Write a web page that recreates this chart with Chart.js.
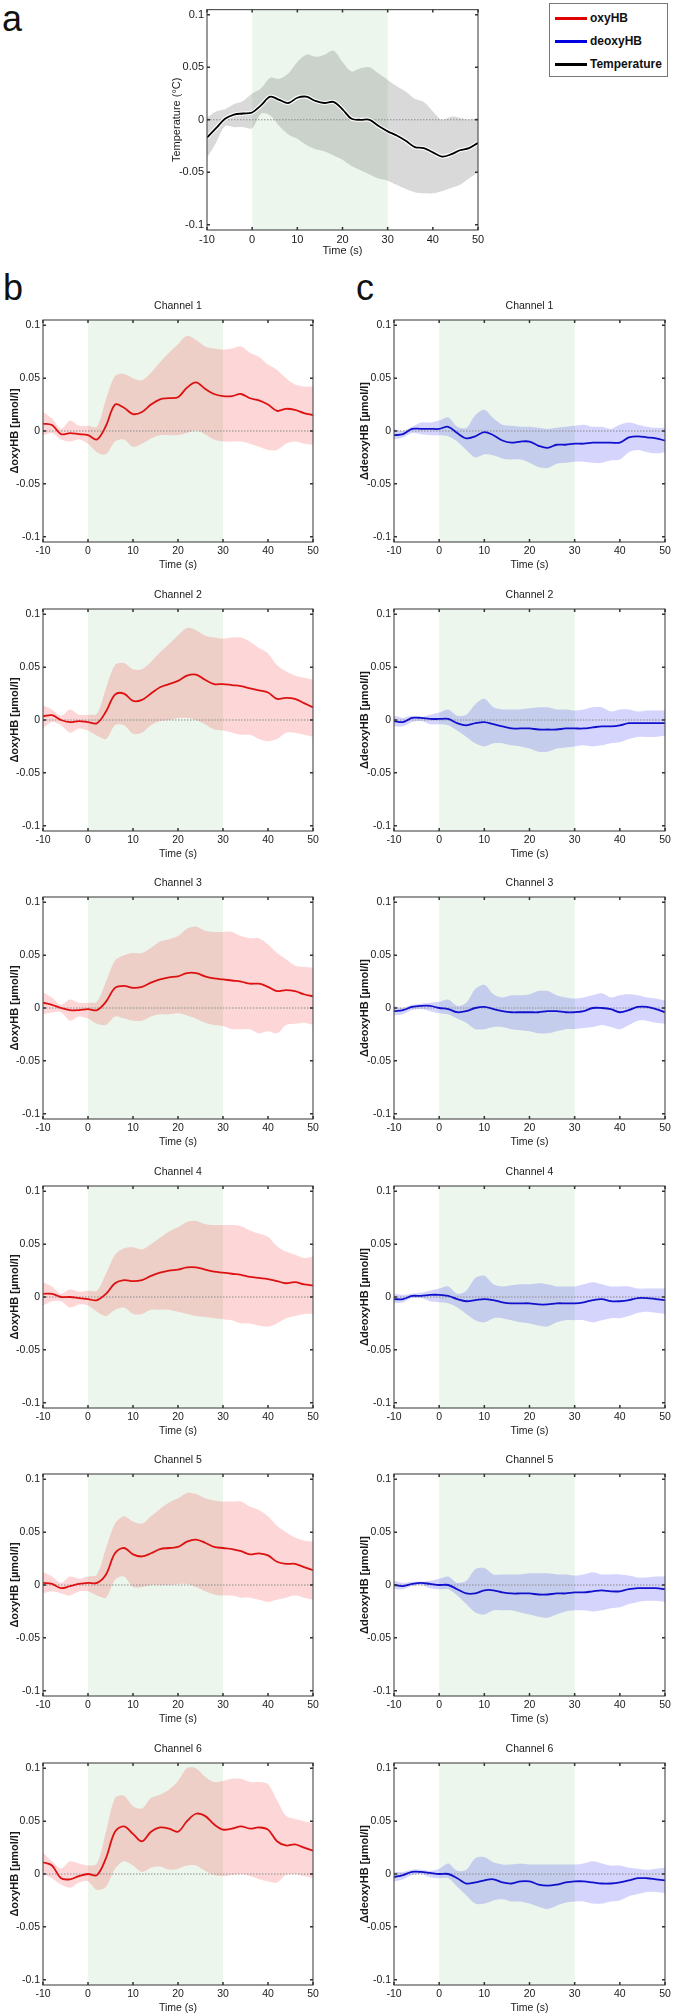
<!DOCTYPE html>
<html>
<head>
<meta charset="utf-8">
<script src="https://cdn.jsdelivr.net/npm/chart.js@4.4.1/dist/chart.umd.min.js"></script>
<style>
  html, body { margin: 0; padding: 0; background: #fff; overflow: hidden; }
  body { position: relative; width: 675px; height: 2016px; font-family: "Liberation Sans", Arial, sans-serif; }
  canvas { position: absolute; }
  .panel { position: absolute; font-size: 36px; line-height: 36px; color: #111; }
  #legend { position: absolute; left: 549px; top: 3px; width: 117px; height: 72px; border: 1px solid #777; background: #fff; }
  #legend .row { position: absolute; left: 0; height: 14px; line-height: 14px; font-size: 12px; font-weight: bold; color: #111; }
  #legend .sw { position: absolute; left: 5px; top: 6px; width: 32px; height: 2.5px; }
  #legend .txt { position: absolute; left: 40px; top: 0; white-space: nowrap; }
</style>
</head>
<body>

<div class="panel" style="left:2px; top:1px;">a</div>
<div class="panel" style="left:3px; top:270px;">b</div>
<div class="panel" style="left:356px; top:270px;">c</div>

<div id="legend">
  <div class="row" style="top:7px;"><span class="sw" style="background:#e00000"></span><span class="txt">oxyHB</span></div>
  <div class="row" style="top:30px;"><span class="sw" style="background:#0000e0"></span><span class="txt">deoxyHB</span></div>
  <div class="row" style="top:53px;"><span class="sw" style="background:#000"></span><span class="txt">Temperature</span></div>
</div>

<canvas id="cA" width="330" height="264" style="left:160px; top:0px;"></canvas>

<script>
// time axis (s)
const time = [-10, -8, -6, -4, -2, 0, 2, 4, 6, 8, 10, 12, 14, 16, 18, 20, 22, 24, 26, 28, 30, 32, 34, 36, 38, 40, 42, 44, 46, 48, 50];
const stimWindow = [0, 30];
const xTickValues = [-10, 0, 10, 20, 30, 40, 50];
const yTickValues = [-0.1, -0.05, 0, 0.05, 0.1];
const yTickLabels = ['-0.1', '-0.05', '0', '0.05', '0.1'];
const channelNames = ['Channel 1', 'Channel 2', 'Channel 3', 'Channel 4', 'Channel 5', 'Channel 6'];

// panel a - temperature
const tempMean  = [-0.017, -0.008, 0.001, 0.005, 0.006, 0.007, 0.014, 0.022, 0.019, 0.016, 0.021, 0.022, 0.018, 0.016, 0.017, 0.010, 0.001, 0.000, 0.000, -0.006, -0.011, -0.015, -0.020, -0.026, -0.027, -0.031, -0.035, -0.033, -0.029, -0.027, -0.022];
const tempUpper = [0.002, 0.008, 0.010, 0.015, 0.018, 0.025, 0.030, 0.040, 0.039, 0.044, 0.055, 0.062, 0.060, 0.062, 0.066, 0.055, 0.046, 0.049, 0.050, 0.044, 0.038, 0.032, 0.027, 0.020, 0.017, 0.008, 0.000, 0.003, 0.002, 0.000, 0.002];
const tempLower = [-0.036, -0.022, -0.006, -0.007, -0.007, -0.008, 0.006, 0.004, -0.006, -0.014, -0.018, -0.024, -0.028, -0.030, -0.034, -0.038, -0.044, -0.048, -0.052, -0.056, -0.058, -0.062, -0.066, -0.069, -0.070, -0.070, -0.068, -0.065, -0.062, -0.056, -0.050];

// panel b - oxyHB
const oxyMean1  = [0.007, 0.0057, -0.003, -0.002, -0.003, -0.004, -0.008, 0.005, 0.025, 0.022, 0.016, 0.018, 0.025, 0.030, 0.031, 0.032, 0.041, 0.046, 0.040, 0.035, 0.033, 0.033, 0.035, 0.031, 0.029, 0.025, 0.019, 0.021, 0.020, 0.017, 0.015];
const oxyUpper1 = [0.018, 0.012, 0.002, 0.010, 0.005, 0.005, 0.004, 0.030, 0.052, 0.054, 0.050, 0.048, 0.055, 0.065, 0.074, 0.082, 0.090, 0.086, 0.080, 0.078, 0.077, 0.078, 0.080, 0.074, 0.070, 0.063, 0.058, 0.050, 0.044, 0.042, 0.042];
const oxyLower1 = [-0.004, -0.002, -0.008, -0.010, -0.008, -0.012, -0.020, -0.022, -0.010, -0.008, -0.015, -0.012, -0.007, -0.004, -0.004, -0.004, -0.002, 0.001, -0.003, -0.008, -0.010, -0.010, -0.010, -0.012, -0.015, -0.018, -0.018, -0.012, -0.010, -0.012, -0.013];

const oxyMean2  = [0.0035, 0.0045, 0.000, -0.002, -0.001, -0.002, -0.003, 0.008, 0.024, 0.025, 0.018, 0.019, 0.025, 0.031, 0.034, 0.037, 0.042, 0.043, 0.038, 0.034, 0.034, 0.033, 0.032, 0.030, 0.028, 0.026, 0.020, 0.021, 0.020, 0.016, 0.012];
const oxyUpper2 = [0.014, 0.010, 0.004, 0.010, 0.005, 0.005, 0.006, 0.030, 0.052, 0.054, 0.048, 0.048, 0.055, 0.064, 0.072, 0.080, 0.087, 0.085, 0.080, 0.078, 0.077, 0.078, 0.078, 0.074, 0.068, 0.063, 0.052, 0.046, 0.042, 0.040, 0.038];
const oxyLower2 = [-0.008, -0.002, -0.005, -0.012, -0.008, -0.010, -0.015, -0.018, -0.005, -0.005, -0.013, -0.012, -0.005, -0.001, 0.000, 0.002, 0.002, 0.000, -0.004, -0.009, -0.010, -0.012, -0.014, -0.014, -0.018, -0.020, -0.018, -0.012, -0.012, -0.014, -0.016];

const oxyMean3  = [0.005, 0.003, 0.000, -0.002, -0.002, -0.001, -0.002, 0.006, 0.019, 0.021, 0.019, 0.020, 0.024, 0.027, 0.029, 0.030, 0.033, 0.033, 0.030, 0.028, 0.027, 0.026, 0.025, 0.023, 0.023, 0.020, 0.016, 0.017, 0.016, 0.013, 0.011];
const oxyUpper3 = [0.015, 0.010, 0.003, 0.008, 0.005, 0.005, 0.006, 0.025, 0.045, 0.050, 0.052, 0.052, 0.057, 0.063, 0.065, 0.068, 0.075, 0.077, 0.073, 0.072, 0.072, 0.072, 0.068, 0.066, 0.066, 0.060, 0.052, 0.046, 0.040, 0.039, 0.038];
const oxyLower3 = [-0.006, -0.004, -0.004, -0.012, -0.008, -0.010, -0.015, -0.016, -0.008, -0.010, -0.012, -0.012, -0.008, -0.006, -0.006, -0.005, -0.007, -0.010, -0.014, -0.016, -0.017, -0.020, -0.020, -0.020, -0.024, -0.022, -0.024, -0.016, -0.015, -0.014, -0.016];

const oxyMean4  = [0.003, 0.003, 0.000, 0.000, -0.001, -0.002, -0.003, 0.003, 0.013, 0.016, 0.015, 0.016, 0.020, 0.023, 0.025, 0.026, 0.028, 0.028, 0.026, 0.024, 0.023, 0.022, 0.021, 0.019, 0.018, 0.017, 0.015, 0.013, 0.014, 0.012, 0.011];
const oxyUpper4 = [0.014, 0.010, 0.003, 0.007, 0.005, 0.006, 0.006, 0.022, 0.040, 0.046, 0.047, 0.045, 0.050, 0.056, 0.062, 0.066, 0.071, 0.072, 0.069, 0.068, 0.068, 0.068, 0.067, 0.063, 0.060, 0.057, 0.048, 0.043, 0.040, 0.037, 0.038];
const oxyLower4 = [-0.008, -0.004, -0.004, -0.010, -0.007, -0.008, -0.014, -0.018, -0.012, -0.010, -0.016, -0.016, -0.012, -0.012, -0.012, -0.014, -0.016, -0.018, -0.019, -0.020, -0.021, -0.022, -0.025, -0.025, -0.027, -0.028, -0.025, -0.020, -0.018, -0.016, -0.016];

const oxyMean5  = [0.002, 0.001, -0.003, -0.001, 0.001, 0.002, 0.002, 0.010, 0.030, 0.035, 0.029, 0.027, 0.030, 0.034, 0.035, 0.036, 0.041, 0.043, 0.040, 0.036, 0.035, 0.034, 0.032, 0.029, 0.030, 0.028, 0.022, 0.020, 0.020, 0.017, 0.014];
const oxyUpper5 = [0.012, 0.008, 0.002, 0.008, 0.006, 0.008, 0.010, 0.035, 0.058, 0.065, 0.060, 0.058, 0.065, 0.072, 0.078, 0.082, 0.087, 0.086, 0.082, 0.080, 0.079, 0.079, 0.079, 0.074, 0.071, 0.065, 0.056, 0.050, 0.045, 0.042, 0.041];
const oxyLower5 = [-0.008, -0.006, -0.008, -0.010, -0.006, -0.006, -0.010, -0.012, 0.005, 0.008, -0.002, -0.002, 0.000, 0.000, 0.000, 0.001, 0.001, -0.002, -0.006, -0.009, -0.010, -0.010, -0.012, -0.012, -0.014, -0.016, -0.014, -0.012, -0.010, -0.012, -0.014];

const oxyMean6  = [0.011, 0.008, -0.004, -0.005, -0.002, 0.000, -0.001, 0.015, 0.040, 0.045, 0.038, 0.031, 0.040, 0.044, 0.043, 0.040, 0.050, 0.057, 0.055, 0.047, 0.042, 0.043, 0.045, 0.043, 0.044, 0.042, 0.031, 0.027, 0.028, 0.025, 0.022];
const oxyUpper6 = [0.020, 0.012, 0.005, 0.012, 0.010, 0.008, 0.010, 0.040, 0.072, 0.074, 0.064, 0.062, 0.072, 0.075, 0.080, 0.088, 0.100, 0.100, 0.092, 0.087, 0.088, 0.090, 0.090, 0.087, 0.087, 0.085, 0.070, 0.055, 0.052, 0.050, 0.048];
const oxyLower6 = [0.000, -0.004, -0.010, -0.013, -0.008, -0.007, -0.015, -0.012, 0.005, 0.012, 0.008, 0.002, 0.006, 0.007, 0.004, 0.005, 0.008, 0.008, 0.003, -0.001, -0.002, -0.001, 0.000, -0.002, -0.005, -0.007, -0.008, -0.001, 0.000, -0.002, -0.004];

// panel c - deoxyHB
const deoxyMean1  = [-0.004, -0.003, 0.002, 0.002, 0.002, 0.002, 0.004, -0.002, -0.007, -0.005, -0.001, -0.004, -0.009, -0.011, -0.010, -0.010, -0.014, -0.016, -0.013, -0.013, -0.012, -0.012, -0.011, -0.011, -0.011, -0.011, -0.006, -0.005, -0.006, -0.007, -0.009];
const deoxyUpper1 = [0.002, 0.000, 0.004, 0.008, 0.008, 0.010, 0.013, 0.004, 0.003, 0.015, 0.020, 0.012, 0.006, 0.005, 0.004, 0.004, 0.003, 0.002, 0.003, 0.004, 0.005, 0.006, 0.004, 0.004, 0.002, 0.006, 0.008, 0.006, 0.004, 0.003, 0.003];
const deoxyLower1 = [-0.008, -0.006, -0.002, -0.003, -0.004, -0.004, -0.005, -0.010, -0.018, -0.025, -0.022, -0.023, -0.026, -0.027, -0.027, -0.030, -0.034, -0.035, -0.031, -0.030, -0.029, -0.029, -0.030, -0.030, -0.028, -0.027, -0.020, -0.018, -0.020, -0.021, -0.020];

const deoxyMean2  = [-0.001, -0.002, 0.002, 0.002, 0.001, 0.001, 0.001, -0.003, -0.005, -0.003, -0.002, -0.004, -0.006, -0.008, -0.008, -0.008, -0.009, -0.009, -0.009, -0.008, -0.008, -0.008, -0.007, -0.006, -0.006, -0.005, -0.003, -0.003, -0.003, -0.003, -0.003];
const deoxyUpper2 = [0.004, 0.002, 0.004, 0.003, 0.005, 0.007, 0.010, 0.004, 0.005, 0.015, 0.020, 0.012, 0.010, 0.010, 0.010, 0.011, 0.012, 0.012, 0.010, 0.010, 0.009, 0.010, 0.012, 0.012, 0.008, 0.010, 0.010, 0.008, 0.009, 0.009, 0.009];
const deoxyLower2 = [-0.006, -0.006, -0.002, -0.001, -0.004, -0.004, -0.005, -0.010, -0.016, -0.022, -0.025, -0.022, -0.022, -0.024, -0.025, -0.027, -0.030, -0.030, -0.027, -0.026, -0.025, -0.024, -0.025, -0.024, -0.022, -0.021, -0.018, -0.016, -0.016, -0.016, -0.015];

const deoxyMean3  = [-0.003, -0.002, 0.001, 0.002, 0.002, 0.000, -0.001, -0.004, -0.003, 0.000, 0.001, -0.001, -0.003, -0.004, -0.004, -0.004, -0.004, -0.003, -0.003, -0.004, -0.004, -0.003, 0.000, 0.000, -0.001, -0.004, -0.002, 0.001, 0.001, -0.001, -0.004];
const deoxyUpper3 = [0.002, 0.000, 0.003, 0.004, 0.005, 0.006, 0.008, 0.002, 0.005, 0.018, 0.022, 0.013, 0.010, 0.012, 0.012, 0.013, 0.016, 0.016, 0.012, 0.010, 0.009, 0.010, 0.012, 0.014, 0.010, 0.012, 0.013, 0.012, 0.010, 0.009, 0.007];
const deoxyLower3 = [-0.007, -0.006, -0.002, -0.001, -0.003, -0.005, -0.006, -0.010, -0.014, -0.020, -0.020, -0.018, -0.018, -0.020, -0.021, -0.022, -0.024, -0.024, -0.022, -0.020, -0.020, -0.019, -0.018, -0.016, -0.018, -0.020, -0.016, -0.012, -0.012, -0.014, -0.015];

const deoxyMean4  = [-0.002, -0.002, 0.001, 0.001, 0.002, 0.002, 0.001, -0.002, -0.004, -0.003, -0.002, -0.003, -0.005, -0.006, -0.006, -0.006, -0.007, -0.007, -0.006, -0.006, -0.006, -0.005, -0.003, -0.002, -0.004, -0.004, -0.003, -0.001, -0.001, -0.002, -0.003];
const deoxyUpper4 = [0.003, 0.002, 0.003, 0.004, 0.006, 0.008, 0.010, 0.003, 0.006, 0.018, 0.020, 0.012, 0.010, 0.011, 0.012, 0.012, 0.013, 0.012, 0.010, 0.010, 0.010, 0.012, 0.014, 0.012, 0.010, 0.010, 0.010, 0.008, 0.008, 0.008, 0.008];
const deoxyLower4 = [-0.006, -0.005, -0.001, -0.001, -0.004, -0.005, -0.006, -0.010, -0.016, -0.022, -0.024, -0.020, -0.020, -0.022, -0.024, -0.025, -0.027, -0.028, -0.024, -0.022, -0.022, -0.022, -0.024, -0.022, -0.020, -0.020, -0.018, -0.015, -0.014, -0.015, -0.016];

const deoxyMean5  = [0.000, -0.001, 0.001, 0.002, 0.001, 0.000, 0.000, -0.004, -0.008, -0.008, -0.005, -0.005, -0.007, -0.008, -0.008, -0.008, -0.009, -0.009, -0.008, -0.008, -0.007, -0.007, -0.006, -0.005, -0.006, -0.006, -0.004, -0.003, -0.003, -0.003, -0.004];
const deoxyUpper5 = [0.004, 0.002, 0.003, 0.003, 0.004, 0.006, 0.008, 0.002, 0.004, 0.015, 0.016, 0.010, 0.010, 0.010, 0.010, 0.011, 0.011, 0.011, 0.010, 0.010, 0.009, 0.010, 0.012, 0.010, 0.010, 0.010, 0.009, 0.007, 0.007, 0.008, 0.008];
const deoxyLower5 = [-0.004, -0.004, -0.001, 0.000, -0.003, -0.004, -0.004, -0.010, -0.018, -0.026, -0.028, -0.024, -0.024, -0.024, -0.026, -0.028, -0.030, -0.031, -0.028, -0.025, -0.024, -0.024, -0.025, -0.024, -0.022, -0.021, -0.018, -0.016, -0.015, -0.015, -0.016];

const deoxyMean6  = [-0.003, -0.001, 0.002, 0.002, 0.001, 0.000, 0.000, -0.004, -0.009, -0.008, -0.006, -0.005, -0.008, -0.009, -0.007, -0.007, -0.010, -0.011, -0.010, -0.008, -0.007, -0.007, -0.008, -0.009, -0.009, -0.008, -0.006, -0.004, -0.004, -0.005, -0.006];
const deoxyUpper6 = [0.002, 0.002, 0.004, 0.004, 0.003, 0.005, 0.010, 0.003, 0.004, 0.015, 0.016, 0.011, 0.009, 0.009, 0.010, 0.009, 0.009, 0.009, 0.009, 0.009, 0.009, 0.010, 0.012, 0.010, 0.008, 0.008, 0.006, 0.005, 0.004, 0.005, 0.006];
const deoxyLower6 = [-0.007, -0.005, -0.001, 0.000, -0.003, -0.004, -0.004, -0.012, -0.020, -0.028, -0.028, -0.025, -0.024, -0.026, -0.026, -0.028, -0.031, -0.033, -0.030, -0.027, -0.026, -0.026, -0.028, -0.028, -0.026, -0.025, -0.021, -0.019, -0.017, -0.017, -0.018];

const oxyMeans   = [oxyMean1, oxyMean2, oxyMean3, oxyMean4, oxyMean5, oxyMean6];
const oxyUppers  = [oxyUpper1, oxyUpper2, oxyUpper3, oxyUpper4, oxyUpper5, oxyUpper6];
const oxyLowers  = [oxyLower1, oxyLower2, oxyLower3, oxyLower4, oxyLower5, oxyLower6];
const deoxyMeans  = [deoxyMean1, deoxyMean2, deoxyMean3, deoxyMean4, deoxyMean5, deoxyMean6];
const deoxyUppers = [deoxyUpper1, deoxyUpper2, deoxyUpper3, deoxyUpper4, deoxyUpper5, deoxyUpper6];
const deoxyLowers = [deoxyLower1, deoxyLower2, deoxyLower3, deoxyLower4, deoxyLower5, deoxyLower6];

Chart.defaults.font.family = '"Liberation Sans", Arial, sans-serif';
Chart.defaults.color = '#1a1a1a';

const pts = arr => time.map((t, i) => ({ x: t, y: arr[i] }));

// light green stimulus window + matlab-style box with inward ticks
const framePlugin = {
    id: 'frame',
    beforeDatasetsDraw(chart) {
        const { ctx, chartArea: a, scales: { x } } = chart;
        const x0 = x.getPixelForValue(stimWindow[0]);
        const x1 = x.getPixelForValue(stimWindow[1]);
        ctx.save();
        ctx.fillStyle = '#ecf6ec';
        ctx.fillRect(x0, a.top, x1 - x0, a.bottom - a.top);
        ctx.restore();
    },
    afterDraw(chart) {
        const { ctx, chartArea: a, scales: { x, y } } = chart;
        ctx.save();
        ctx.strokeStyle = '#555';
        ctx.lineWidth = 1.2;
        ctx.strokeRect(a.left, a.top, a.right - a.left, a.bottom - a.top);
        ctx.lineWidth = 1.5;
        ctx.strokeStyle = '#333';
        ctx.beginPath();
        x.ticks.forEach(t => {
            const px = x.getPixelForValue(t.value);
            ctx.moveTo(px, a.bottom); ctx.lineTo(px, a.bottom - 3);
            ctx.moveTo(px, a.top); ctx.lineTo(px, a.top + 3);
        });
        y.ticks.forEach(t => {
            const py = y.getPixelForValue(t.value);
            ctx.moveTo(a.left, py); ctx.lineTo(a.left + 3, py);
            ctx.moveTo(a.right, py); ctx.lineTo(a.right - 3, py);
        });
        ctx.stroke();
        ctx.restore();
    }
};

function makeChart(canvas, cfg) {
    const datasets = [
        { data: pts(cfg.mean), borderColor: cfg.lineColor, borderWidth: 1.8, pointRadius: 0, tension: 0.35, fill: false, order: 0 }
    ];
    if (cfg.halo) {
        datasets.push({ data: pts(cfg.mean), borderColor: '#fff', borderWidth: 4, pointRadius: 0, tension: 0.35, fill: false, order: 1 });
    }
    datasets.push(
        { data: [{ x: xTickValues[0], y: 0 }, { x: xTickValues[xTickValues.length - 1], y: 0 }],
          borderColor: '#8a8a8a', borderWidth: 1, borderDash: [1.5, 1.5], pointRadius: 0, fill: false, order: 2 },
        { data: pts(cfg.upper), borderWidth: 0, borderColor: 'transparent', backgroundColor: cfg.bandColor,
          pointRadius: 0, tension: 0.3, fill: '+1', order: 3 },
        { data: pts(cfg.lower), borderWidth: 0, borderColor: 'transparent', pointRadius: 0, tension: 0.3, fill: false, order: 4 }
    );

    return new Chart(canvas, {
        type: 'line',
        data: { datasets },
        plugins: [framePlugin],
        options: {
            responsive: false,
            animation: false,
            events: [],
            layout: { padding: { top: cfg.padTop, right: cfg.padRight, left: 0, bottom: 0 } },
            plugins: {
                legend: { display: false },
                tooltip: { enabled: false },
                title: {
                    display: !!cfg.title,
                    text: cfg.title || '',
                    fullSize: false,
                    color: '#1a1a1a',
                    font: { size: 10.5, weight: 'normal' },
                    padding: { top: 10, bottom: 7.4 }
                }
            },
            scales: {
                x: {
                    type: 'linear',
                    min: -10, max: 50,
                    grid: { display: false, drawTicks: false },
                    border: { display: false },
                    afterBuildTicks: s => { s.ticks = xTickValues.map(v => ({ value: v })); },
                    afterFit: s => { s.height = 34; },
                    ticks: { padding: 3, maxRotation: 0, font: { size: cfg.fontSize }, color: '#1a1a1a', callback: v => String(v) },
                    title: { display: true, text: 'Time (s)', font: { size: cfg.fontSize }, color: '#1a1a1a', padding: { top: 0, bottom: cfg.xTitlePad } }
                },
                y: {
                    min: -0.105, max: 0.105,
                    grid: { display: false, drawTicks: false },
                    border: { display: false },
                    afterBuildTicks: s => { s.ticks = yTickValues.map(v => ({ value: v })); },
                    afterFit: s => { s.width = cfg.yWidth; },
                    ticks: { padding: 3, font: { size: cfg.fontSize }, color: '#1a1a1a', callback: (v, i) => yTickLabels[i] },
                    title: { display: true, text: cfg.yTitle, font: { size: 11, weight: cfg.yBold ? 'bold' : 'normal' }, color: '#1a1a1a', padding: { top: cfg.yTitlePad, bottom: 0 } }
                }
            }
        }
    });
}

// panel a
makeChart(document.getElementById('cA'), {
    mean: tempMean, upper: tempUpper, lower: tempLower,
    lineColor: '#000', bandColor: 'rgba(120,120,120,0.28)', halo: true,
    yTitle: 'Temperature (\u00B0C)', yBold: false, yWidth: 47, yTitlePad: 10,
    padTop: 8, padRight: 12, fontSize: 11, xTitlePad: 6.4
});

// panels b and c
for (let k = 0; k < 6; k++) {
    const top = 290 + Math.round(288.6 * k);

    const cb = document.createElement('canvas');
    cb.width = 330; cb.height = 286;
    cb.style.left = '0px'; cb.style.top = top + 'px';
    document.body.appendChild(cb);
    makeChart(cb, {
        mean: oxyMeans[k], upper: oxyUppers[k], lower: oxyLowers[k],
        lineColor: '#dd1111', bandColor: 'rgba(245,55,55,0.2)', halo: false,
        title: channelNames[k],
        yTitle: '\u0394oxyHB [\u00B5mol/l]', yBold: true, yWidth: 43, yTitlePad: 8,
        padTop: 0, padRight: 17, fontSize: 10.5, xTitlePad: 5
    });

    const cc = document.createElement('canvas');
    cc.width = 325; cc.height = 286;
    cc.style.left = '350px'; cc.style.top = top + 'px';
    document.body.appendChild(cc);
    makeChart(cc, {
        mean: deoxyMeans[k], upper: deoxyUppers[k], lower: deoxyLowers[k],
        lineColor: '#1111cc', bandColor: 'rgba(60,60,240,0.22)', halo: false,
        title: channelNames[k],
        yTitle: '\u0394deoxyHB [\u00B5mol/l]', yBold: true, yWidth: 44, yTitlePad: 8,
        padTop: 0, padRight: 10, fontSize: 10.5, xTitlePad: 5
    });
}
</script>
</body>
</html>
